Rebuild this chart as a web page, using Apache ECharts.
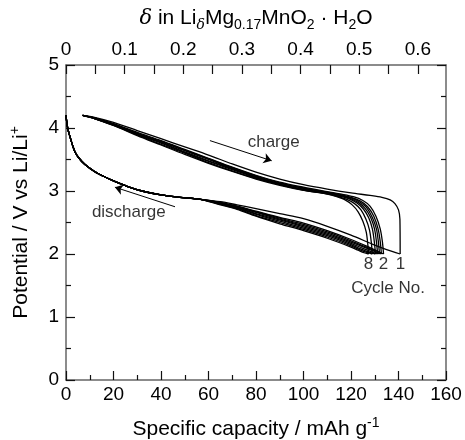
<!DOCTYPE html>
<html><head><meta charset="utf-8">
<script src="https://cdn.jsdelivr.net/npm/echarts@6/dist/echarts.min.js"></script>
<style>html,body{margin:0;padding:0;background:#fff}#c{width:465px;height:440px}</style>
</head><body><div id="c"></div>
<script>
// ---------- DATA ----------
const capacityTicks = [0, 20, 40, 60, 80, 100, 120, 140, 160];
const deltaTicks = [0, 0.1, 0.2, 0.3, 0.4, 0.5, 0.6];
const potentialTicks = [0, 1, 2, 3, 4, 5];

// charge curves (capacity mAh/g, potential V)
const cycle1Charge = [[7,4.20],[12,4.17],[20,4.09],[30,3.96],[40,3.83],[50,3.70],[60,3.57],[70,3.43],[80,3.30],[90,3.19],[100,3.10],[110,3.03],[120,2.97],[128,2.93],[133,2.90],[136.5,2.86],[138.5,2.80],[140,2.70],[140.6,2.55],[140.7,2.0]];
const cycle2Charge = [[7,4.20],[12,4.16],[20,4.07],[30,3.93],[40,3.80],[50,3.66],[60,3.52],[70,3.38],[80,3.25],[90,3.14],[100,3.06],[110,2.99],[116,2.95],[121,2.91],[125,2.85],[128,2.76],[130.5,2.60],[132.3,2.40],[133.2,2.20],[133.7,2.0]];
const cycle3Charge = [[7,4.20],[12,4.16],[20,4.06],[30,3.92],[40,3.79],[50,3.65],[60,3.51],[70,3.37],[80,3.24],[90,3.13],[100,3.05],[110,2.98],[116,2.94],[120,2.90],[124,2.84],[127,2.75],[129.6,2.60],[131.4,2.40],[132.3,2.20],[132.8,2.0]];
const cycle4Charge = [[7,4.20],[12,4.16],[20,4.06],[30,3.91],[40,3.78],[50,3.64],[60,3.50],[70,3.36],[80,3.23],[90,3.12],[100,3.04],[110,2.975],[116,2.93],[120,2.89],[123.5,2.83],[126.5,2.74],[129,2.58],[130.7,2.40],[131.5,2.20],[132.0,2.0]];
const cycle5Charge = [[7,4.20],[12,4.15],[20,4.05],[30,3.90],[40,3.77],[50,3.62],[60,3.48],[70,3.35],[80,3.22],[90,3.11],[100,3.03],[110,2.97],[115,2.93],[119,2.89],[123,2.82],[126,2.72],[128.3,2.58],[129.9,2.40],[130.7,2.20],[131.2,2.0]];
const cycle6Charge = [[7,4.20],[12,4.15],[20,4.05],[30,3.90],[40,3.76],[50,3.61],[60,3.47],[70,3.34],[80,3.21],[90,3.10],[100,3.02],[110,2.96],[115,2.92],[119,2.88],[122.5,2.81],[125.3,2.71],[127.5,2.57],[129,2.40],[129.8,2.20],[130.3,2.0]];
const cycle7Charge = [[7,4.20],[12,4.15],[20,4.04],[30,3.89],[40,3.74],[50,3.60],[60,3.45],[70,3.32],[80,3.20],[90,3.10],[100,3.015],[110,2.955],[114,2.92],[118,2.87],[121.5,2.80],[124.2,2.70],[126.3,2.55],[127.8,2.38],[128.5,2.20],[129.0,2.0]];
const cycle8Charge = [[7,4.20],[12,4.15],[20,4.04],[30,3.88],[40,3.73],[50,3.58],[60,3.44],[70,3.31],[80,3.19],[90,3.09],[100,3.01],[110,2.95],[114,2.91],[117.5,2.86],[120.5,2.78],[123,2.67],[125,2.52],[126.4,2.35],[127,2.18],[127.4,2.0]];

// discharge curves: common start then per-cycle tail
const dischargeStart = [[0,4.20],[0.3,4.10],[0.8,3.98],[1.7,3.86],[2.8,3.72],[3.8,3.62],[5.5,3.52],[8,3.42],[12,3.31],[16,3.23],[20,3.16],[26,3.07],[32,3.00],[40,2.94],[48,2.90],[56,2.87]];
const cycle1DischargeTail = [[65,2.83],[72,2.78],[80,2.72],[90,2.64],[100,2.56],[110,2.44],[120,2.30],[130,2.14],[135,2.07],[140.7,2.0]];
const cycle2DischargeTail = [[65,2.82],[72,2.76],[80,2.68],[90,2.58],[100,2.49],[110,2.37],[120,2.23],[128,2.10],[131.5,2.04],[133.7,2.0]];
const cycle3DischargeTail = [[65,2.815],[72,2.755],[80,2.67],[90,2.57],[100,2.47],[110,2.35],[120,2.21],[127,2.10],[130.5,2.04],[132.8,2.0]];
const cycle4DischargeTail = [[65,2.81],[72,2.75],[80,2.66],[90,2.555],[100,2.45],[110,2.33],[120,2.19],[126,2.10],[129.8,2.04],[132.0,2.0]];
const cycle5DischargeTail = [[65,2.80],[72,2.74],[80,2.64],[90,2.54],[100,2.43],[110,2.31],[120,2.17],[125,2.09],[129,2.03],[131.2,2.0]];
const cycle6DischargeTail = [[65,2.795],[72,2.73],[80,2.63],[90,2.52],[100,2.41],[110,2.29],[120,2.15],[124,2.08],[128.2,2.02],[130.3,2.0]];
const cycle7DischargeTail = [[65,2.79],[72,2.72],[80,2.61],[90,2.50],[100,2.39],[110,2.27],[120,2.13],[123.5,2.07],[127,2.02],[129.0,2.0]];
const cycle8DischargeTail = [[65,2.78],[72,2.71],[80,2.60],[90,2.48],[100,2.37],[110,2.25],[120,2.11],[123,2.06],[125.5,2.02],[127.4,2.0]];

// annotations (data coordinates) and arrows
const annotations = [[76.5,3.77,'charge','left'],[10.9,2.66,'discharge','left'],[127.4,1.83,'8','center'],[133.7,1.83,'2','center'],[140.8,1.83,'1','center'],[135.6,1.46,'Cycle No.','center']];
const arrows = [[[60.6,3.80],[86.6,3.48]],[[45.9,2.75],[20.6,3.06]]];

// ---------- CHART ----------
const FONT = '"Liberation Sans", Arial, sans-serif';
const chargeSets = [cycle1Charge,cycle2Charge,cycle3Charge,cycle4Charge,cycle5Charge,cycle6Charge,cycle7Charge,cycle8Charge];
const dischargeTails = [cycle1DischargeTail,cycle2DischargeTail,cycle3DischargeTail,cycle4DischargeTail,cycle5DischargeTail,cycle6DischargeTail,cycle7DischargeTail,cycle8DischargeTail];

const lineSeries = [];
chargeSets.forEach((d,i)=>{
  lineSeries.push({type:'line', name:'Cycle '+(i+1)+' charge', data:d, showSymbol:false, symbol:'none', smooth:0.3,
    lineStyle:{color:'#000', width:1.3}, z:3});
});
dischargeTails.forEach((t,i)=>{
  lineSeries.push({type:'line', name:'Cycle '+(i+1)+' discharge', data:dischargeStart.concat(t), showSymbol:false, symbol:'none', smooth:0.3,
    lineStyle:{color:'#000', width:1.3}, z:3});
});

const tickStyle = {color:'#111', width:1.2};
const lineStyleAxis = {color:'#666', width:1.5};
const subRich = {
  sub:{fontSize:14, fontFamily:FONT, color:'#000', verticalAlign:'bottom', lineHeight:15},
  sup:{fontSize:14, fontFamily:FONT, color:'#000', verticalAlign:'top', lineHeight:15},
  it:{fontSize:21, fontFamily:'"DejaVu Serif", serif', fontStyle:'italic', color:'#000', lineHeight:27},
  itsub:{fontSize:14, fontFamily:'"DejaVu Serif", serif', fontStyle:'italic', color:'#000', verticalAlign:'bottom', lineHeight:15}
};
const nameStyle = {fontSize:21, color:'#000', fontFamily:FONT, lineHeight:27, rich:subRich};

const option = {
  animation:false,
  backgroundColor:'#fff',
  grid:{left:66, right:19, top:65, bottom:60, outerBoundsMode:'none', containLabel:false},
  xAxis:[
    {type:'value', position:'bottom', min:capacityTicks[0], max:capacityTicks[capacityTicks.length-1], interval:20,
     axisLine:{show:true, onZero:false, lineStyle:lineStyleAxis},
     axisTick:{show:true, inside:true, length:9, lineStyle:tickStyle},
     minorTick:{show:true, splitNumber:2, length:5, lineStyle:tickStyle},
     splitLine:{show:false}, minorSplitLine:{show:false},
     axisLabel:{fontSize:19, color:'#000', margin:5, fontFamily:FONT},
     name:'Specific capacity / mAh g{sup|-1}', nameLocation:'middle', nameGap:36,
     nameTextStyle:nameStyle
    },
    {type:'value', position:'top', min:deltaTicks[0], max:0.648, interval:0.05,
     axisLine:{show:true, onZero:false, lineStyle:lineStyleAxis},
     axisTick:{show:true, inside:true, length:9, lineStyle:tickStyle},
     splitLine:{show:false},
     axisLabel:{fontSize:19, color:'#000', margin:6, fontFamily:FONT, showMaxLabel:false,
       formatter:function(v){ const r=Math.round(v*100); if (Math.abs(v*100-r)>1e-6 || r%10!==0) return ''; const t=r/100; return deltaTicks.indexOf(t)>=0 ? (t===0?'0':t.toFixed(1)) : ''; }},
     name:'{it|δ} in Li{itsub|δ}Mg{sub|0.17}MnO{sub|2} · H{sub|2}O', nameLocation:'middle', nameGap:33,
     nameTextStyle:nameStyle
    }
  ],
  yAxis:[
    {type:'value', position:'left', min:potentialTicks[0], max:potentialTicks[potentialTicks.length-1], interval:1,
     axisLine:{show:true, onZero:false, lineStyle:lineStyleAxis},
     axisTick:{show:true, inside:true, length:9, lineStyle:tickStyle},
     minorTick:{show:true, splitNumber:2, length:5, lineStyle:tickStyle},
     splitLine:{show:false}, minorSplitLine:{show:false},
     axisLabel:{fontSize:19, color:'#000', margin:7, fontFamily:FONT},
     name:'Potential / V vs Li/Li{sup|+}', nameLocation:'middle', nameGap:31, nameRotate:90,
     nameTextStyle:nameStyle
    },
    {type:'value', position:'right', min:potentialTicks[0], max:potentialTicks[potentialTicks.length-1], interval:1,
     axisLine:{show:true, onZero:false, lineStyle:lineStyleAxis},
     axisTick:{show:true, inside:true, length:9, lineStyle:tickStyle},
     minorTick:{show:true, splitNumber:2, length:5, lineStyle:tickStyle},
     splitLine:{show:false},
     axisLabel:{show:false}
    }
  ],
  series: lineSeries.concat([
    {type:'lines', coordinateSystem:'cartesian2d', xAxisIndex:0, yAxisIndex:0,
     data: arrows.map(a=>({coords:a})), symbol:['none','arrow'], symbolSize:[0,8],
     lineStyle:{color:'#000', width:1, opacity:1}, z:4},
    {type:'scatter', xAxisIndex:0, yAxisIndex:0, symbolSize:1, itemStyle:{color:'rgba(0,0,0,0)'},
     data: annotations.map(a=>({value:[a[0],a[1]], name:a[2], label:{align:a[3]}})),
     label:{show:true, position:'inside', color:'#000', fontSize:17, fontFamily:FONT,
       formatter:function(p){return p.name;}}, z:5, silent:true}
  ])
};
const chart = echarts.init(document.getElementById('c'), null, {renderer:'canvas'});
chart.setOption(option);
</script></body></html>
